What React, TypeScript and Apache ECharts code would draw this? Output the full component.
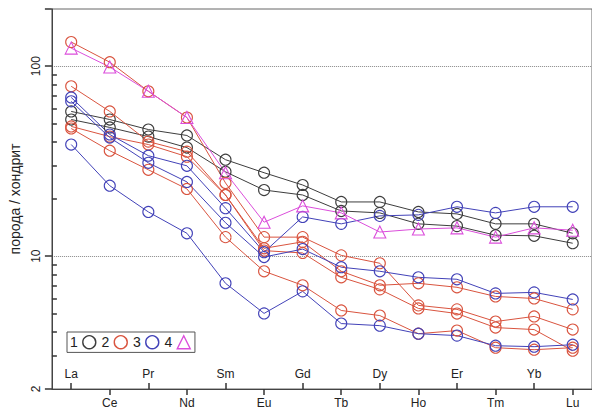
import React, { useEffect, useRef } from 'react';
import * as echarts from 'echarts';

const elements = ['La', 'Ce', 'Pr', 'Nd', 'Sm', 'Eu', 'Gd', 'Tb', 'Dy', 'Ho', 'Er', 'Tm', 'Yb', 'Lu'];

// group 1 (black)
const g1a = [57.8, 52.4, 46.4, 43.2, 32.2, 27.5, 23.7, 19.3, 19.3, 17.1, 16.7, 14.8, 14.8, 13.2];
const g1b = [52.4, 47.6, 42.6, 37.3, 27.8, 22.3, 21.0, 17.3, 16.9, 14.8, 14.4, 12.9, 12.8, 11.7];
// group 2 (red)
const g2a = [134, 105, 73.8, 53.7, 24.3, 12.6, 12.6, 10.1, 9.18, 5.51, 5.25, 4.53, 4.82, 4.11];
const g2b = [78.4, 57.8, 40.1, 35.5, 21.0, 11.0, 11.9, 8.33, 7.03, 7.2, 6.86, 6.14, 5.99, 5.25];
const g2c = [48.2, 42.6, 38.7, 33.4, 21.0, 10.7, 10.4, 7.74, 6.69, 5.31, 4.99, 4.21, 4.11, 3.18];
const g2d = [47.0, 35.9, 28.5, 22.6, 12.6, 8.33, 7.03, 5.18, 4.87, 3.91, 4.06, 3.3, 3.22, 3.3];
// group 3 (blue)
const g3a = [68.5, 43.7, 33.8, 29.9, 17.9, 10.5, 16.1, 14.8, 16.3, 16.5, 18.2, 16.9, 18.2, 18.2];
const g3b = [65.3, 42.1, 31.0, 24.6, 15.0, 9.9, 10.9, 8.75, 8.33, 7.74, 7.56, 6.37, 6.45, 5.92];
const g3c = [38.7, 23.5, 17.1, 13.2, 7.2, 5.0, 6.53, 4.42, 4.31, 3.91, 3.82, 3.38, 3.34, 3.42];
// group 4 (magenta)
const g4a = [124.5, 99, 73.8, 53.7, 27.5, 15.1, 18.4, 16.9, 13.4, 13.9, 14.1, 12.6, 14.1, 13.7];

const yLabels = ['2', '10', '100'];

const COLORS: Record<string, string> = {
  '1': '#3d3d3d',
  '2': '#d9543f',
  '3': '#4242b8',
  '4': '#db4edb',
};

const FONT = 'Liberation Sans, Arial, sans-serif';
const CLEAR = 'rgba(255,255,255,0)';
const AXIS = '#444';
const TICK = '#333';

function makeSeries(name: string, data: number[], symbol: string, size: number) {
  const c = COLORS[name];
  return {
    type: 'line',
    name,
    data,
    xAxisIndex: 0,
    yAxisIndex: 0,
    symbol,
    symbolSize: size,
    lineStyle: { color: c, width: 1 },
    itemStyle: { color: CLEAR, borderColor: c, borderWidth: 1.1 },
    emphasis: { disabled: true },
  };
}

export default function App() {
  const ref = useRef<HTMLDivElement>(null);
  useEffect(() => {
    if (!ref.current) return;
    const chart = echarts.init(ref.current, undefined, { renderer: 'svg' });
    const legendItem = (name: string, icon: string) => ({
      name,
      icon,
      itemStyle: { color: CLEAR, borderColor: COLORS[name], borderWidth: 1.4 },
    });
    chart.setOption({
      animation: false,
      grid: {
        left: 47,
        top: 9,
        width: 547,
        height: 380,
        show: true,
        borderColor: '#666',
        borderWidth: 1,
        backgroundColor: 'transparent',
      },
      legend: {
        left: 67,
        top: 332,
        orient: 'horizontal',
        align: 'right',
        borderColor: '#555',
        borderWidth: 1,
        padding: [3, 4, 3, 3],
        itemGap: 5,
        itemWidth: 13,
        itemHeight: 13,
        textStyle: { fontSize: 14, color: '#222', fontFamily: FONT },
        data: [
          legendItem('1', 'circle'),
          legendItem('2', 'circle'),
          legendItem('3', 'circle'),
          legendItem('4', 'triangle'),
        ],
      },
      xAxis: [
        {
          type: 'category',
          data: elements,
          boundaryGap: true,
          position: 'bottom',
          axisLine: { lineStyle: { color: AXIS, width: 1 } },
          axisTick: {
            show: true,
            inside: true,
            length: 6,
            alignWithLabel: true,
            interval: (i: number) => i % 2 === 0,
            lineStyle: { color: TICK, width: 1.5 },
          },
          axisLabel: {
            inside: true,
            margin: 9,
            interval: (i: number) => i % 2 === 0,
            fontSize: 12,
            color: '#222',
            fontFamily: FONT,
          },
          splitLine: { show: false },
        },
        {
          type: 'category',
          data: elements,
          boundaryGap: true,
          position: 'bottom',
          axisLine: { show: false },
          axisTick: {
            show: true,
            inside: false,
            length: 6,
            alignWithLabel: true,
            interval: (i: number) => i % 2 === 1,
            lineStyle: { color: TICK, width: 1.5 },
          },
          axisLabel: {
            margin: 8,
            interval: (i: number) => i % 2 === 1,
            fontSize: 12,
            color: '#222',
            fontFamily: FONT,
          },
          splitLine: { show: false },
        },
      ],
      yAxis: [
        {
          type: 'log',
          logBase: 10,
          min: 2,
          max: 200,
          position: 'left',
          name: 'порода / хондрит',
          nameLocation: 'middle',
          nameRotate: 90,
          nameGap: 29,
          nameTextStyle: { fontSize: 14, color: '#222', fontFamily: FONT },
          axisLine: { show: true, lineStyle: { color: AXIS, width: 1 } },
          axisTick: { show: true, inside: false, length: 7, lineStyle: { color: TICK, width: 1.5 } },
          minorTick: { show: true, splitNumber: 9, length: -5, lineStyle: { color: TICK, width: 1.5 } },
          axisLabel: {
            rotate: 90,
            margin: 10,
            fontSize: 12,
            color: '#222',
            fontFamily: FONT,
            showMaxLabel: false,
            formatter: (v: number) => (yLabels.indexOf(String(v)) >= 0 ? String(v) : ''),
          },
          splitLine: {
            show: true,
            showMinLine: false,
            showMaxLine: false,
            lineStyle: { color: '#888', type: 'dotted', width: 1 },
          },
          minorSplitLine: { show: false },
        },
      ],
      series: [
        makeSeries('1', g1a, 'circle', 11),
        makeSeries('1', g1b, 'circle', 11),
        makeSeries('2', g2a, 'circle', 11),
        makeSeries('2', g2b, 'circle', 11),
        makeSeries('2', g2c, 'circle', 11),
        makeSeries('2', g2d, 'circle', 11),
        makeSeries('3', g3a, 'circle', 11),
        makeSeries('3', g3b, 'circle', 11),
        makeSeries('3', g3c, 'circle', 11),
        makeSeries('4', g4a, 'triangle', 12),
      ],
    });
    return () => chart.dispose();
  }, []);
  return (
    <div
      ref={ref}
      style={{ position: 'fixed', left: 0, top: 0, width: 592, height: 409, background: '#fff' }}
    />
  );
}
